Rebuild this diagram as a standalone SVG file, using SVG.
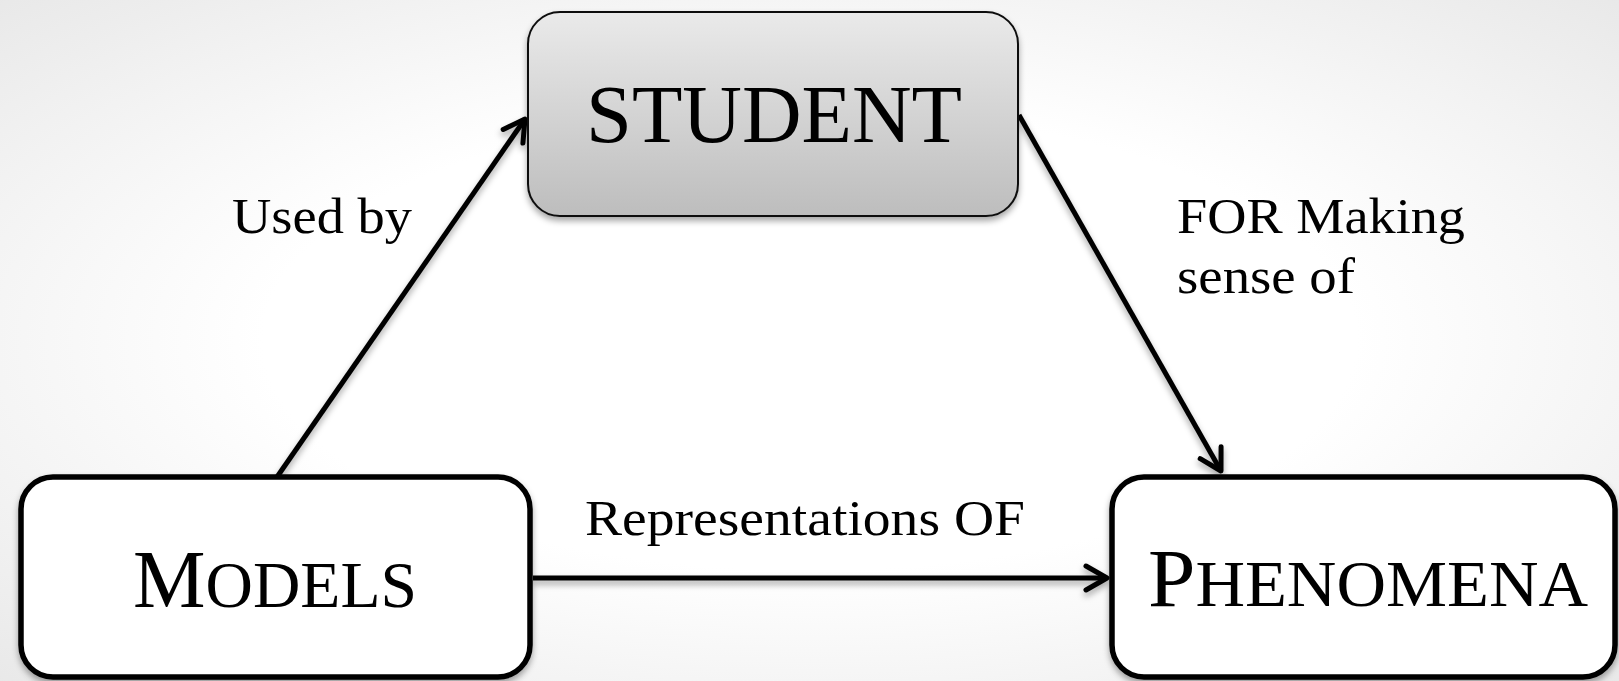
<svg xmlns="http://www.w3.org/2000/svg" width="1619" height="681" viewBox="0 0 1619 681">
<defs>
  <radialGradient id="bg" cx="50%" cy="50%" r="75%">
    <stop offset="0.45" stop-color="#ffffff"/>
    <stop offset="1" stop-color="#e6e6e6"/>
  </radialGradient>
  <linearGradient id="studentFill" x1="0" y1="0" x2="0" y2="1">
    <stop offset="0" stop-color="#eaeaea"/>
    <stop offset="1" stop-color="#bdbdbd"/>
  </linearGradient>
  <filter id="shadow" x="-10%" y="-10%" width="120%" height="130%">
    <feDropShadow dx="0" dy="4" stdDeviation="3" flood-color="#000" flood-opacity="0.35"/>
  </filter>
  <marker id="arrow" markerUnits="userSpaceOnUse" viewBox="-30 -20 40 40" refX="0" refY="0" markerWidth="40" markerHeight="40" orient="auto">
    <path d="M -21,-12 L 0,0 L -21,12" fill="none" stroke="#000" stroke-width="5" stroke-linecap="round" stroke-linejoin="round"/>
  </marker>
  <style>
    .node { fill: #fff; stroke: #000; stroke-width: 5.5; }
    .nodeText { font-family: "Liberation Serif", "Times New Roman", serif; fill: #000; }
    .edge { fill: none; stroke: #000; stroke-width: 5; marker-end: url(#arrow); }
    .label { font-family: "Liberation Serif", "Times New Roman", serif; font-size: 50px; fill: #000; }
  </style>
</defs>
<rect x="0" y="0" width="1619" height="681" fill="url(#bg)"/>

<g id="connectors" filter="url(#shadow)">
  <line class="edge" x1="277" y1="477" x2="525" y2="119"/>
  <line class="edge" x1="1019" y1="115" x2="1221" y2="471"/>
  <line class="edge" x1="533" y1="578" x2="1107" y2="578"/>
</g>

<g id="labels">
  <text class="label" x="232" y="233" textLength="180" lengthAdjust="spacingAndGlyphs">Used by</text>
  <text class="label" x="1177" y="233" textLength="288" lengthAdjust="spacingAndGlyphs">FOR Making</text>
  <text class="label" x="1177" y="293" textLength="178" lengthAdjust="spacingAndGlyphs">sense of</text>
  <text class="label" x="585" y="535" textLength="440" lengthAdjust="spacingAndGlyphs">Representations OF</text>
</g>

<g id="student">
  <rect x="528" y="12" width="490" height="204" rx="32" ry="32" fill="url(#studentFill)" stroke="#111" stroke-width="2" filter="url(#shadow)"/>
  <text class="nodeText" x="586" y="142" font-size="82" textLength="376" lengthAdjust="spacingAndGlyphs">STUDENT</text>
</g>

<g id="models">
  <rect class="node" x="21" y="477" width="509" height="200" rx="32" ry="32" filter="url(#shadow)"/>
  <text class="nodeText" x="133" y="607" textLength="284" lengthAdjust="spacingAndGlyphs"><tspan font-size="82">M</tspan><tspan font-size="66">ODELS</tspan></text>
</g>

<g id="phenomena">
  <rect class="node" x="1112" y="477" width="503" height="200" rx="32" ry="32" filter="url(#shadow)"/>
  <text class="nodeText" x="1148" y="606" textLength="440" lengthAdjust="spacingAndGlyphs"><tspan font-size="82">P</tspan><tspan font-size="66">HENOMENA</tspan></text>
</g>
</svg>
